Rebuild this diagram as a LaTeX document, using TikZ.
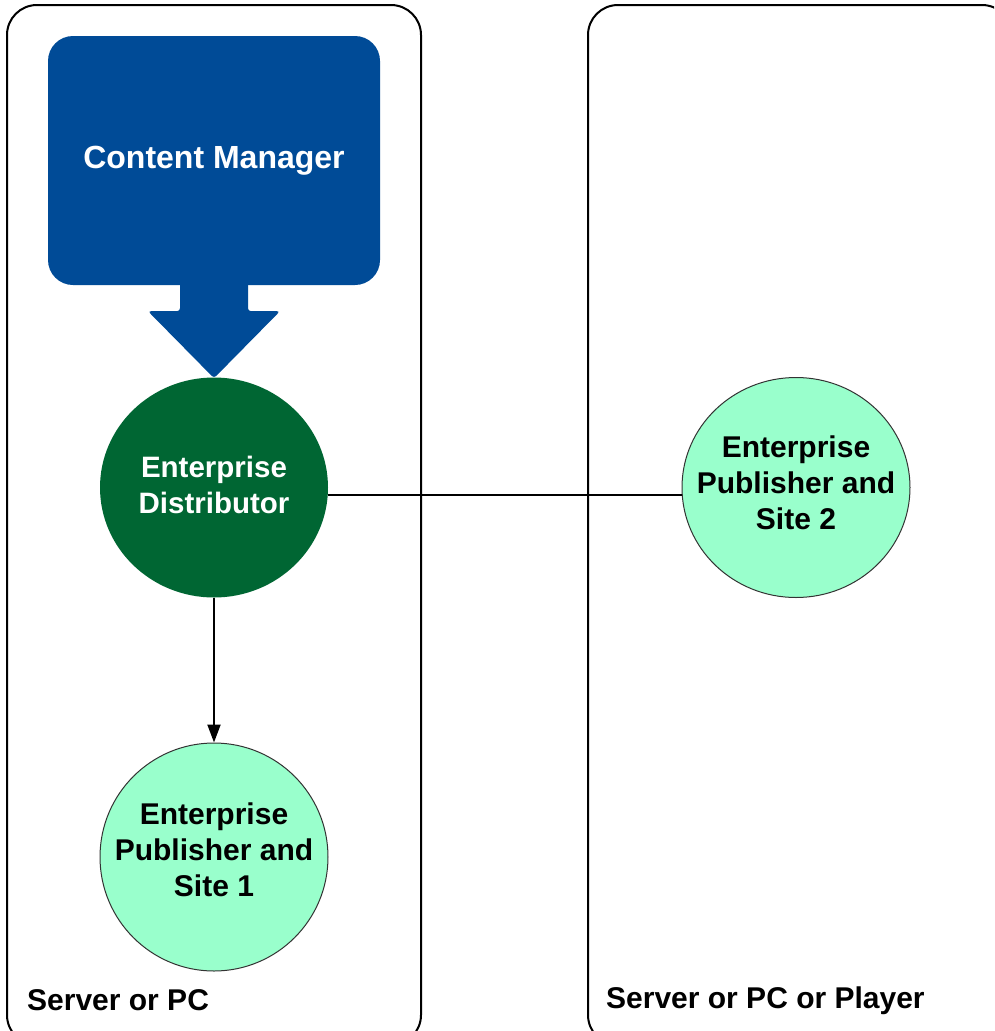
\documentclass[tikz,border=0pt]{standalone}
\usepackage{fontspec}
\setmainfont{Liberation Sans}
\usetikzlibrary{arrows.meta,shapes.geometric}
\definecolor{cmblue}{RGB}{0,75,151}
\definecolor{distgreen}{RGB}{0,102,51}
\definecolor{mint}{RGB}{153,255,204}
\tikzset{
  zone/.style={draw=black, line width=2pt, rounded corners=30pt},
  zonelabel/.style={anchor=west, inner sep=0pt, font=\fontsize{30}{36}\selectfont\bfseries},
  cmbox/.style={fill=cmblue, rounded corners=25pt, minimum width=332pt, minimum height=249pt, inner sep=0pt, text=white, font=\fontsize{32}{38}\selectfont\bfseries},
  distnode/.style={ellipse, fill=distgreen, minimum width=228pt, minimum height=220pt, inner sep=0pt, text=white, font=\fontsize{29.5}{36}\selectfont\bfseries},
  sitenode/.style={ellipse, fill=mint, draw=black!80, line width=1pt, minimum width=228pt, minimum height=228pt, inner sep=0pt, text=black, font=\fontsize{30}{36}\selectfont\bfseries},
  link/.style={draw=black, line width=2pt},
}
\newcommand{\lines}[2]{\makebox[0pt]{\smash{\raisebox{#1}{\begin{tabular}{@{}c@{}}#2\end{tabular}}}}}
\begin{document}
\begin{tikzpicture}[x=1pt, y=-1pt]
\useasboundingbox (0,0) rectangle (994,1031);
\clip (0,0) rectangle (994,1031);
\fill[white] (0,0) rectangle (994,1031);
% zones
\draw[zone] (7,5) rectangle (421,1045);
\draw[zone] (588,5) rectangle (1012,1045);
\node[zonelabel] (lblA) at (27,1000) {Server or PC};
\node[zonelabel] (lblB) at (606,1001) {Server or PC or Player};
% content manager
\node[cmbox] (cm) at (214,160.5) {Content Manager};
\fill[cmblue, rounded corners=3pt] ([xshift=-34pt,yshift=5pt]cm.south) -- ([xshift=34pt,yshift=5pt]cm.south)
  -- ([xshift=34pt,yshift=-26pt]cm.south) -- ([xshift=66pt,yshift=-26pt]cm.south)
  -- ([yshift=-93pt]cm.south) -- ([xshift=-66pt,yshift=-26pt]cm.south)
  -- ([xshift=-34pt,yshift=-26pt]cm.south) -- cycle;
% circles
\node[distnode] (dist) at (214,487.5) {\lines{-7pt}{Enterprise\\Distributor}};
\node[sitenode] (site1) at (214,857) {\lines{-2.5pt}{Enterprise\\Publisher and\\Site 1}};
\node[sitenode, minimum height=220pt] (site2) at (796,487.5) {\lines{-5pt}{Enterprise\\Publisher and\\Site 2}};
% connectors
\draw[link] (dist.-4) -- (dist.-4 -| site2.west);
\draw[link, -{Triangle[length=18pt, width=13pt]}] (dist.south) -- (site1.north);
\end{tikzpicture}
\end{document}
